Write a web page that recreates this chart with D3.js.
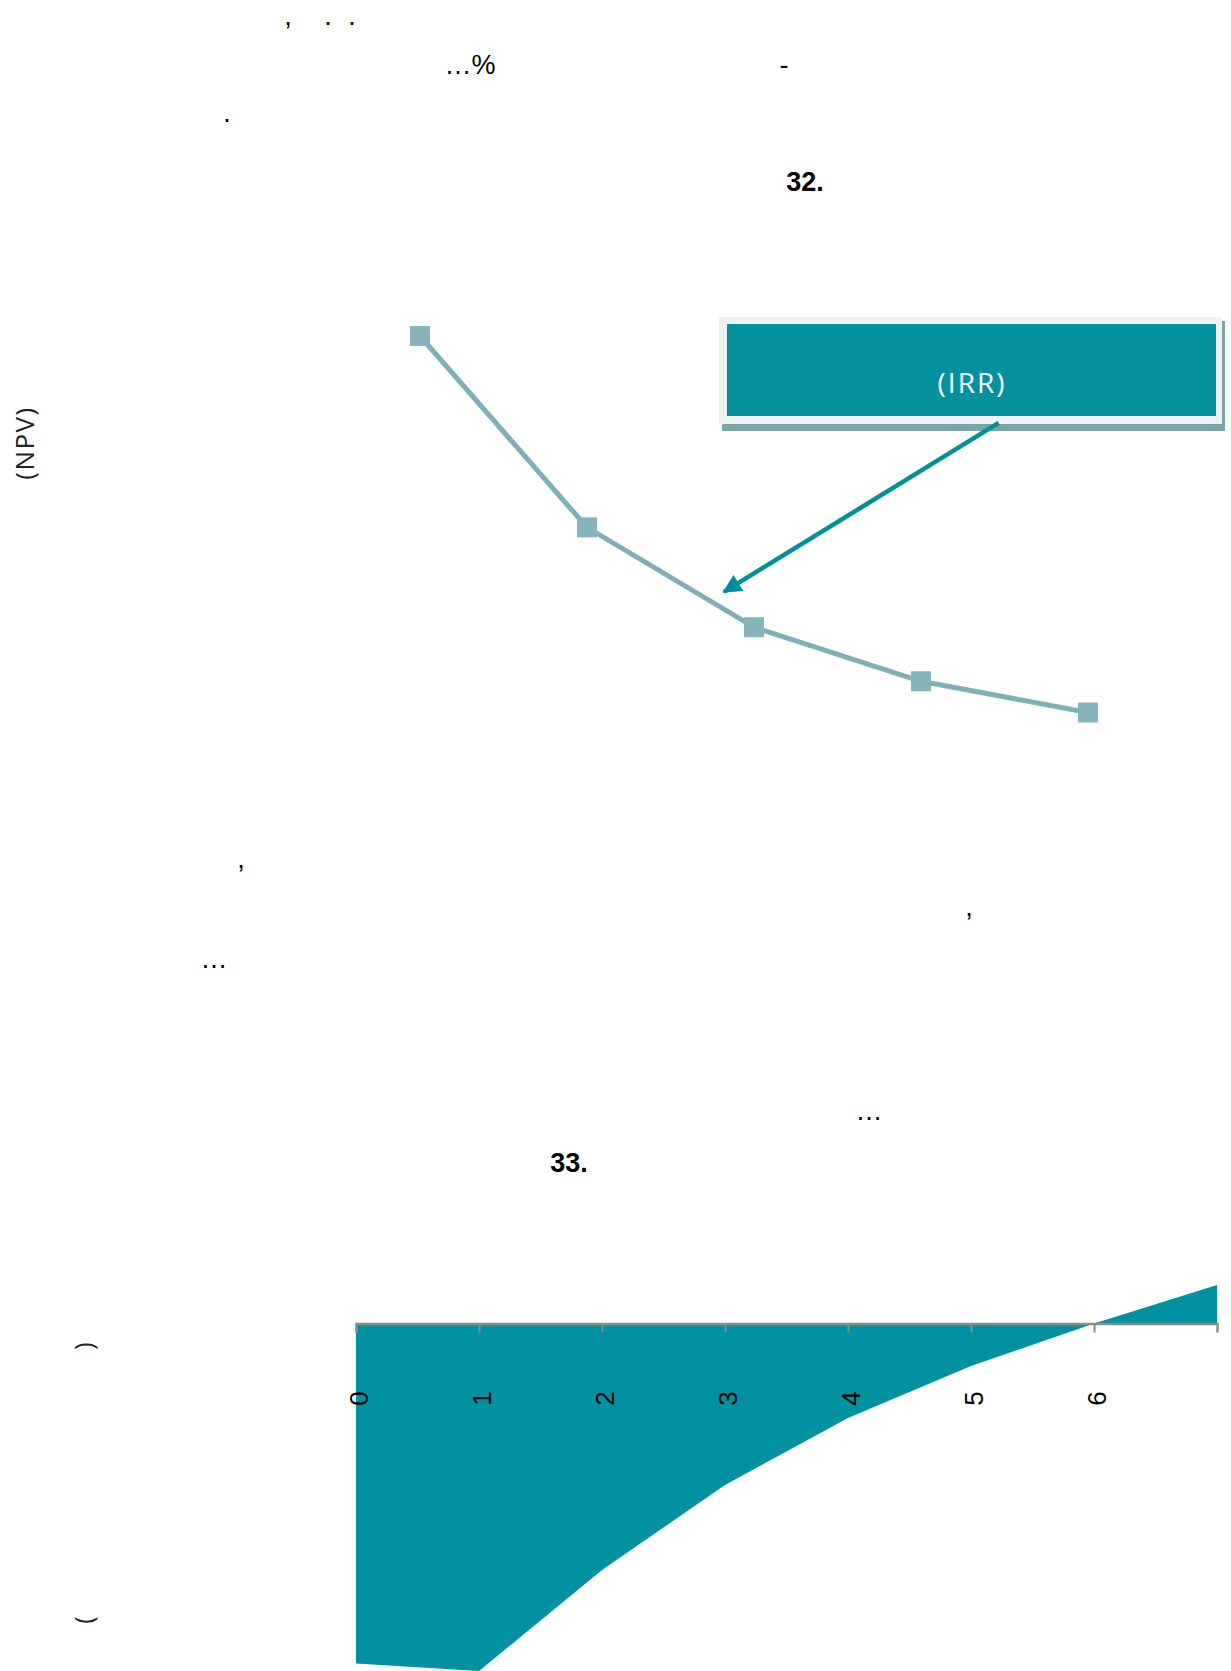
<!DOCTYPE html>
<html>
<head>
<meta charset="utf-8">
<script src="https://cdn.jsdelivr.net/npm/d3@7"></script>
<style>
  html, body { margin: 0; padding: 0; background: #fff; overflow: hidden; }
  svg { display: block; }
  .body-text { font-family: "Liberation Sans", Arial, sans-serif; font-size: 27px; fill: #000; }
  .caption { font-family: "Liberation Sans", Arial, sans-serif; font-size: 27px; font-weight: bold; fill: #000; }
  .soft-label { font-family: "Open Sans", "Noto Sans", sans-serif; fill: #222; }
</style>
</head>
<body>
<script>
// Figure 32: NPV profile against the discount rate
const discountRates = [0, 10, 20, 30, 40];
const npvValues = [100, 54, 30, 17, 9.5];
// IRR pointer, in the same units as the profile (rate, NPV)
const irrPointerFrom = [34.65, 79.1];
const irrPointerTo = [18.2, 38.5];

// Figure 33: cumulative cash flow by year
const years = [0, 1, 2, 3, 4, 5, 6, 7];
const yearTickLabels = ["0", "1", "2", "3", "4", "5", "6"];
const cumulativeFlow = [-100, -102.2, -72.5, -47.5, -27.8, -12.5, 0, 11.3];

const W = 1231, H = 1671;
const svg = d3.select("body").append("svg")
  .attr("width", W).attr("height", H);

const teal = "#0092a0";

// ---- running text fragments ----
const plain = (t, x, y, anchor = "middle") =>
  svg.append("text").attr("class", "body-text")
    .attr("x", x).attr("y", y).attr("text-anchor", anchor).text(t);

plain(",", 288, 25);
plain(".", 328, 25);
plain(".", 352, 25);
plain("…%", 470, 74);
plain("-", 784, 74);
plain(".", 227, 122);
plain(",", 241, 868);
plain(",", 969, 916);
plain("…", 214, 968);
plain("…", 869, 1120);

svg.append("text").attr("class", "caption")
  .attr("x", 805).attr("y", 191).attr("text-anchor", "middle").text("32.");
svg.append("text").attr("class", "caption")
  .attr("x", 569).attr("y", 1172).attr("text-anchor", "middle").text("33.");

// ---- Figure 32 ----
const x1 = d3.scaleLinear().domain([0, 40]).range([420, 1088]);
const y1 = d3.scaleLinear().domain([0, 100]).range([752, 336]);

svg.append("text").attr("class", "soft-label")
  .attr("transform", "translate(34,443) rotate(-90)")
  .attr("text-anchor", "middle")
  .style("font-size", "26px").style("letter-spacing", "1.5px")
  .text("(NPV)");

const profile = discountRates.map((r, i) => ({ r, v: npvValues[i] }));

svg.append("path")
  .datum(profile)
  .attr("fill", "none")
  .attr("stroke", "#7fb0b8")
  .attr("stroke-width", 5)
  .attr("stroke-linejoin", "round")
  .attr("d", d3.line().x(d => x1(d.r)).y(d => y1(d.v)));

const mk = 20;
svg.append("g").selectAll("rect")
  .data(profile)
  .join("rect")
  .attr("x", d => x1(d.r) - mk / 2)
  .attr("y", d => y1(d.v) - mk / 2)
  .attr("width", mk).attr("height", mk)
  .attr("fill", "#86b4bc");

// IRR callout box
const callout = svg.append("g");
callout.append("rect")
  .attr("x", 722).attr("y", 321).attr("width", 503).attr("height", 110)
  .attr("fill", "#7ca6a6");
callout.append("rect")
  .attr("x", 719).attr("y", 317).attr("width", 503).attr("height", 107)
  .attr("fill", "#eef3f2");
callout.append("rect")
  .attr("x", 727).attr("y", 324).attr("width", 489).attr("height", 92)
  .attr("fill", "#03919d");
callout.append("text").attr("class", "soft-label")
  .attr("x", 972).attr("y", 393)
  .attr("text-anchor", "middle")
  .style("fill", "#fff").style("font-size", "28px").style("letter-spacing", "2px")
  .text("(IRR)");

// pointer from the callout to the zero crossing
const defs = svg.append("defs");
defs.append("marker")
  .attr("id", "irr-head")
  .attr("viewBox", "0 0 10 10")
  .attr("refX", 9).attr("refY", 5)
  .attr("markerWidth", 5).attr("markerHeight", 4.2)
  .attr("markerUnits", "strokeWidth")
  .attr("orient", "auto")
  .append("path").attr("d", "M0,0 L10,5 L0,10 z").attr("fill", "#00909b");

svg.append("line")
  .attr("x1", x1(irrPointerFrom[0])).attr("y1", y1(irrPointerFrom[1]))
  .attr("x2", x1(irrPointerTo[0])).attr("y2", y1(irrPointerTo[1]))
  .attr("stroke", "#00909b").attr("stroke-width", 4.5)
  .attr("marker-end", "url(#irr-head)");

// ---- Figure 33 ----
const x2 = d3.scaleLinear().domain([0, 7]).range([356, 1217]);
const y2 = d3.scaleLinear().domain([-100, 0]).range([1663.5, 1323.5]);

const flows = years.map((t, i) => ({ t, v: cumulativeFlow[i] }));

svg.append("path")
  .datum(flows)
  .attr("fill", teal)
  .attr("d", d3.area().x(d => x2(d.t)).y0(y2(0)).y1(d => y2(d.v)));

const axis = svg.append("g")
  .attr("transform", `translate(0,${y2(0)})`)
  .call(d3.axisBottom(x2)
    .tickValues(d3.range(yearTickLabels.length))
    .tickFormat(i => yearTickLabels[i])
    .tickSize(9).tickSizeOuter(9));
axis.select(".domain").attr("stroke", "#8c8c8c").attr("stroke-width", 2.5);
axis.selectAll(".tick line").attr("stroke", "#8c8c8c").attr("stroke-width", 2);
axis.selectAll(".tick text")
  .attr("fill", "#000")
  .style("font-family", "\"Liberation Sans\", Arial, sans-serif")
  .style("font-size", "26px")
  .attr("y", null).attr("dy", null)
  .attr("text-anchor", "middle")
  .attr("transform", "translate(11,75) rotate(-90)");

// vertical axis title (only the brackets carry glyphs)
svg.append("text").attr("class", "soft-label")
  .attr("transform", "translate(93,1620) rotate(-90)")
  .attr("text-anchor", "middle")
  .style("font-size", "25px").text("(");
svg.append("text").attr("class", "soft-label")
  .attr("transform", "translate(93,1346) rotate(-90)")
  .attr("text-anchor", "middle")
  .style("font-size", "25px").text(")");
</script>
</body>
</html>
